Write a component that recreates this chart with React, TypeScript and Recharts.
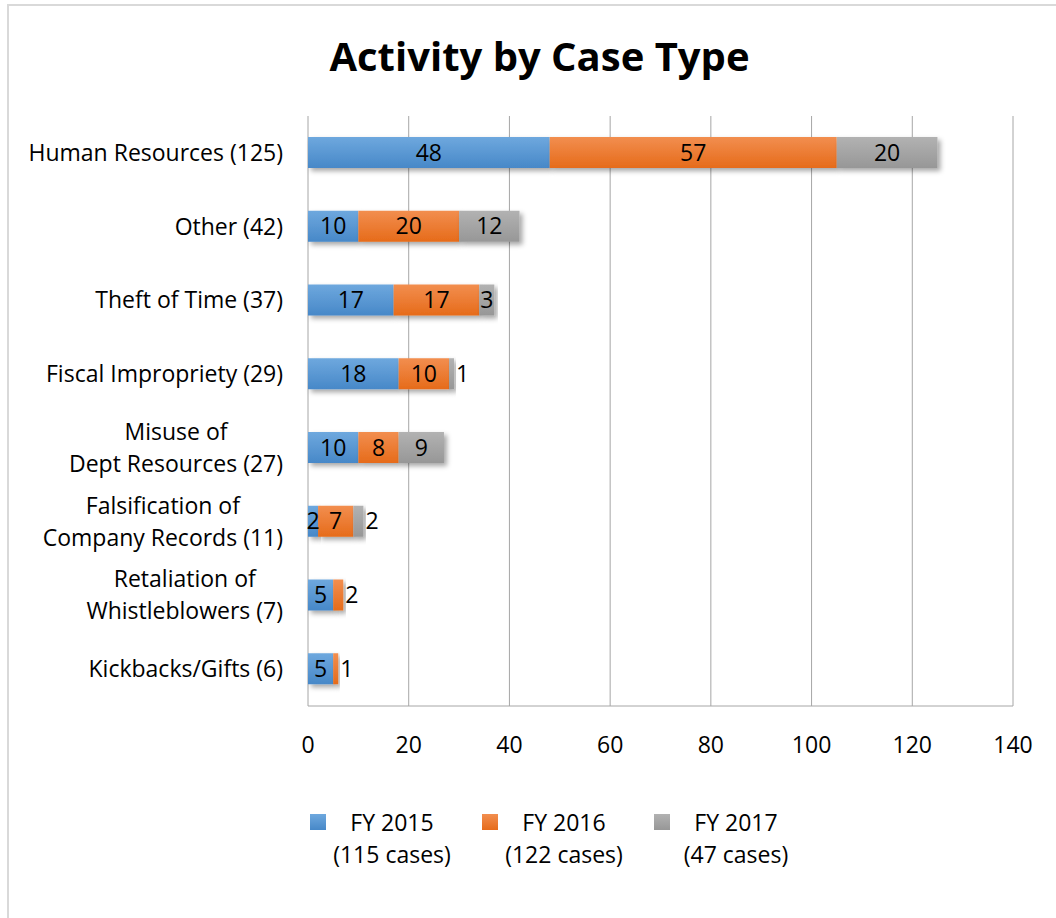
import { BarChart, Bar, XAxis, YAxis, CartesianGrid } from 'recharts'

const CATEGORIES = [
  'Human Resources (125)',
  'Other (42)',
  'Theft of Time (37)',
  'Fiscal Impropriety (29)',
  'Misuse of\nDept Resources (27)',
  'Falsification of\nCompany Records (11)',
  'Retaliation of\nWhistleblowers (7)',
  'Kickbacks/Gifts (6)',
]
const FY2015 = [48, 10, 17, 18, 10, 2, 5, 5]
const FY2016 = [57, 20, 17, 10, 8, 7, 2, 1]
const FY2017 = [20, 12, 3, 1, 9, 2, 0, 0]
const X_TICKS = [0, 20, 40, 60, 80, 100, 120, 140]

const SERIES = [
  { key: 'fy2015', values: FY2015, line1: 'FY 2015', line2: '(115 cases)', grad: 'gBlue', top: '#6ea8de', bottom: '#4788c8' },
  { key: 'fy2016', values: FY2016, line1: 'FY 2016', line2: '(122 cases)', grad: 'gOrange', top: '#f28e4f', bottom: '#e66b1a' },
  { key: 'fy2017', values: FY2017, line1: 'FY 2017', line2: '(47 cases)', grad: 'gGray', top: '#b2b2b2', bottom: '#979797' },
]

const data = CATEGORIES.map((name, i) => ({
  name,
  fy2015: FY2015[i],
  fy2016: FY2016[i],
  fy2017: FY2017[i],
}))

const FONT = '"Open Sans", Lato, sans-serif'
const FS = 23

let ctx: CanvasRenderingContext2D | null = null
function textWidth(s: string) {
  if (!ctx) ctx = document.createElement('canvas').getContext('2d')
  if (!ctx) return s.length * 12
  ctx.font = `${FS}px "Open Sans"`
  return ctx.measureText(s).width
}

function CategoryTick(props: any) {
  const { y, payload } = props
  const lines = String(payload.value).split('\n')
  const maxW = Math.max(...lines.map(textWidth))
  const cx = 283 - maxW / 2
  const start = y - ((lines.length - 1) * 32) / 2
  return (
    <text textAnchor="middle" fontSize={FS} fontFamily={FONT} fill="#000">
      {lines.map((l, i) => (
        <tspan key={i} x={cx} y={start + i * 32} dy="0.35em">{l}</tspan>
      ))}
    </text>
  )
}

function makeLabel(seriesIdx: number) {
  return (props: any) => {
    const { x, y, width, height, index } = props
    const v = SERIES[seriesIdx].values[index]
    if (!v) return null
    const outside = seriesIdx > 0 && width < 12
    return (
      <text
        x={outside ? x + width + 2 : x + width / 2}
        y={y + height / 2}
        dy="0.35em"
        textAnchor={outside ? 'start' : 'middle'}
        fontSize={FS}
        fontFamily={FONT}
        fill="#000"
      >
        {v}
      </text>
    )
  }
}

function makeShape(grad: string) {
  return (props: any) => {
    const { x, y, width, height } = props
    if (!width || width <= 0) return <g />
    return <rect x={x} y={y} width={width} height={height} fill={`url(#${grad})`} filter="url(#barShadow)" />
  }
}

export default function App() {
  return (
    <div style={{ position: 'absolute', left: 0, top: 0, width: 1056, height: 918, overflow: 'hidden', background: '#fff', fontFamily: FONT }}>
      <div style={{ position: 'absolute', left: 7, top: 4, width: 1200, height: 1100, border: '2px solid #d9d9d9' }} />
      <div style={{ position: 'absolute', left: 0, top: 32, width: 1079, textAlign: 'center', fontSize: 40, fontWeight: 700, lineHeight: '48px', color: '#000' }}>
        Activity by Case Type
      </div>
      <div style={{ position: 'absolute', left: 0, top: 0 }}>
        <BarChart
          width={1056}
          height={918}
          data={data}
          layout="vertical"
          margin={{ top: 116, right: 43, bottom: 152, left: 0 }}
          barSize={31}
        >
          <defs>
            {SERIES.map((s) => (
              <linearGradient key={s.grad} id={s.grad} x1="0" y1="0" x2="0" y2="1">
                <stop offset="0%" stopColor={s.top} />
                <stop offset="100%" stopColor={s.bottom} />
              </linearGradient>
            ))}
            <filter id="barShadow" x="-10%" y="-30%" width="130%" height="180%">
              <feDropShadow dx="3" dy="3" stdDeviation="2.5" floodColor="#000" floodOpacity="0.35" />
            </filter>
          </defs>
          <CartesianGrid horizontal={false} stroke="#a6a6a6" />
          <XAxis
            type="number"
            domain={[0, 140]}
            ticks={X_TICKS}
            interval={0}
            height={60}
            tickLine={false}
            tickSize={0}
            tickMargin={31}
            axisLine={{ stroke: '#a6a6a6' }}
            tick={{ fontSize: FS, fontFamily: FONT, fill: '#000' }}
          />
          <YAxis
            type="category"
            dataKey="name"
            width={308}
            interval={0}
            axisLine={false}
            tickLine={false}
            tick={<CategoryTick />}
          />
          {SERIES.map((s, i) => (
            <Bar
              key={s.key}
              dataKey={s.key}
              stackId="a"
              isAnimationActive={false}
              shape={makeShape(s.grad)}
              label={makeLabel(i)}
            />
          ))}
        </BarChart>
      </div>
      <div style={{ position: 'absolute', left: 310, top: 806, display: 'flex', fontSize: FS, color: '#000' }}>
        {SERIES.map((s) => (
          <div key={s.key} style={{ display: 'flex', alignItems: 'flex-start', width: 172 }}>
            <div style={{ width: 16, height: 16, marginTop: 8, background: `linear-gradient(${s.top}, ${s.bottom})` }} />
            <div style={{ width: 132, textAlign: 'center', lineHeight: '32px', whiteSpace: 'nowrap' }}>
              <div>{s.line1}</div>
              <div>{s.line2}</div>
            </div>
          </div>
        ))}
      </div>
    </div>
  )
}
